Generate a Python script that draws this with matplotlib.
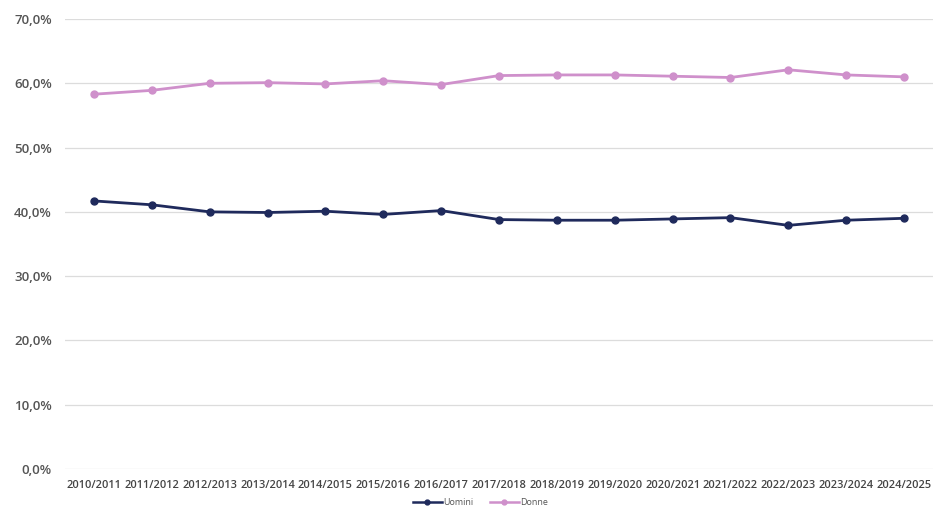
import matplotlib
matplotlib.use("Agg")
import matplotlib.pyplot as plt
from matplotlib.ticker import FuncFormatter

anni = ["2010/2011", "2011/2012", "2012/2013", "2013/2014", "2014/2015",
        "2015/2016", "2016/2017", "2017/2018", "2018/2019", "2019/2020",
        "2020/2021", "2021/2022", "2022/2023", "2023/2024", "2024/2025"]
uomini = [41.7, 41.1, 40.0, 39.9, 40.1, 39.6, 40.2, 38.8, 38.7, 38.7,
          38.9, 39.1, 37.9, 38.7, 39.0]
donne = [58.3, 58.9, 60.0, 60.1, 59.9, 60.4, 59.8, 61.2, 61.3, 61.3,
         61.1, 60.9, 62.1, 61.3, 61.0]
y_ticks = [0, 10, 20, 30, 40, 50, 60, 70]

plt.rcParams["font.family"] = ["Open Sans", "DejaVu Sans"]

fig = plt.figure(figsize=(9.33, 5.08), dpi=100)
ax = fig.add_axes([65 / 933, 1 - 469 / 508, (933 - 65) / 933, (469 - 19) / 508])

x = list(range(len(anni)))
navy = "#1f2a5c"
pink = "#cf90cb"
ax.plot(x, uomini, color=navy, lw=2.0, marker="o", ms=5, label="Uomini", zorder=3)
ax.plot(x, donne, color=pink, lw=2.0, marker="o", ms=5, label="Donne", zorder=3)

ax.set_xlim(-0.5, len(anni) - 0.5)
ax.set_ylim(0, 70)
ax.set_yticks(y_ticks)
ax.yaxis.set_major_formatter(FuncFormatter(lambda v, p: f"{v:.1f}%".replace(".", ",")))
ax.set_xticks(x)
ax.set_xticklabels(anni)

ax.grid(axis="y", color="#dcdcdc", lw=0.9)
ax.set_axisbelow(True)
for s in ax.spines.values():
    s.set_visible(False)
ax.tick_params(axis="both", length=0)
ax.tick_params(axis="y", pad=9.5, labelsize=9.5, labelcolor="#555555")
ax.tick_params(axis="x", pad=8, labelsize=7.9, labelcolor="#444444")
for t in ax.get_yticklabels() + ax.get_xticklabels():
    t.set_fontweight("semibold")

leg = fig.legend(loc="lower center", bbox_to_anchor=(0.515, -0.014), ncol=2,
                 frameon=False, fontsize=6.5, handlelength=3.2, columnspacing=1.8,
                 handletextpad=0.2, labelcolor="#555555")
for h in leg.legend_handles:
    h.set_markersize(3.5)
    h.set_linewidth(1.8)

fig.savefig("out.png", dpi=100)
